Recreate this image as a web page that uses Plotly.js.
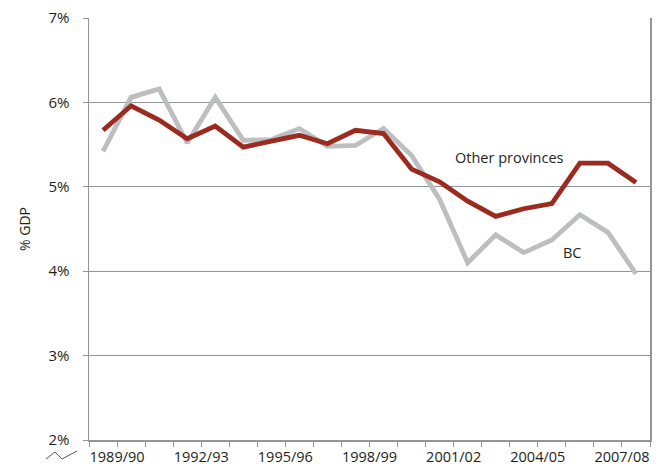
<!DOCTYPE html>
<html>
<head>
<meta charset="utf-8">
<script src="https://cdn.plot.ly/plotly-3.0.1.min.js"></script>
<style>html,body{margin:0;padding:0;background:#fff;}#chart{width:657px;height:465px;}</style>
</head>
<body>
<div id="chart"></div>
<script>
// Fiscal years (20 categories)
const years = ["1988/89","1989/90","1990/91","1991/92","1992/93","1993/94","1994/95","1995/96","1996/97","1997/98",
               "1998/99","1999/00","2000/01","2001/02","2002/03","2003/04","2004/05","2005/06","2006/07","2007/08"];
// % of GDP
const otherProvinces = [5.67,5.96,5.79,5.57,5.72,5.47,5.54,5.61,5.51,5.67,5.63,5.21,5.06,4.83,4.65,4.74,4.80,5.28,5.28,5.05];
const bc             = [5.42,6.06,6.16,5.52,6.06,5.55,5.56,5.69,5.48,5.49,5.69,5.37,4.85,4.10,4.43,4.22,4.37,4.67,4.46,3.97];
const labelEvery = 3, labelStart = 1;
const yTicks = [2,3,4,5,6,7];

const idx = years.map((_, i) => i);
const red = '#9B2A1F', grey = '#BDBEC0', axisC = '#939598', txt = '#231F20';

const tickvals = [], ticktext = [];
for (let i = 0; i <= years.length; i++) {
  tickvals.push(i - 0.5);
  ticktext.push(i < years.length && i >= labelStart && (i - labelStart) % labelEvery === 0 ? years[i] : '');
}

const traces = [
  {x: idx, y: bc, type: 'scatter', mode: 'lines', name: 'BC',
   line: {color: grey, width: 4.8}, hoverinfo: 'skip'},
  {x: idx, y: otherProvinces, type: 'scatter', mode: 'lines', name: 'Other provinces',
   line: {color: red, width: 4.8}, hoverinfo: 'skip'}
];

const W = 657, H = 465, L = 89, R = 7, T = 18, B = 25;
const pw = W - L - R, ph = H - T - B;
const px = p => (p - L) / pw, py = p => (H - B - p) / ph;

const layout = {
  width: W, height: H,
  margin: {l: L, r: R, t: T, b: B, pad: 0},
  paper_bgcolor: '#fff', plot_bgcolor: '#fff',
  font: {family: 'Open Sans, sans-serif', size: 14, color: txt},
  showlegend: false,
  xaxis: {
    range: [-0.5, years.length - 0.5], tickmode: 'array', tickvals: tickvals, ticktext: ticktext,
    ticks: 'outside', ticklen: 5, tickwidth: 1, tickcolor: axisC, ticklabelstandoff: -2,
    showline: true, linecolor: axisC, linewidth: 1.5, showgrid: false, zeroline: false,
    tickfont: {size: 14.5, color: txt}, fixedrange: true
  },
  yaxis: {
    range: [2, 7], tickmode: 'array', tickvals: yTicks, ticktext: yTicks.map(v => v + '%'),
    ticks: 'outside', ticklen: 5, tickwidth: 1, tickcolor: axisC, ticklabelstandoff: 10,
    showline: true, mirror: true, linecolor: axisC, linewidth: 1.5,
    showgrid: true, gridcolor: axisC, gridwidth: 1.2, zeroline: false,
    tickfont: {size: 15, color: txt},
    title: {text: '% GDP', font: {size: 14, color: txt}, standoff: 14}, fixedrange: true
  },
  annotations: [
    {x: 14.49, y: 5.35, xref: 'x', yref: 'y', text: 'Other provinces', showarrow: false,
     font: {size: 14.5, color: txt}, xanchor: 'center', yanchor: 'middle'},
    {x: 16.74, y: 4.22, xref: 'x', yref: 'y', text: 'BC', showarrow: false,
     font: {size: 14.5, color: txt}, xanchor: 'center', yanchor: 'middle'}
  ],
  shapes: [
    {type: 'path', xref: 'paper', yref: 'paper',
     path: `M ${px(46)} ${py(459)} L ${px(55)} ${py(452)} L ${px(62)} ${py(459)} L ${px(77)} ${py(451)}`,
     line: {color: '#58595B', width: 1}}
  ]
};

Plotly.newPlot('chart', traces, layout, {displayModeBar: false, staticPlot: true});
</script>
</body>
</html>
